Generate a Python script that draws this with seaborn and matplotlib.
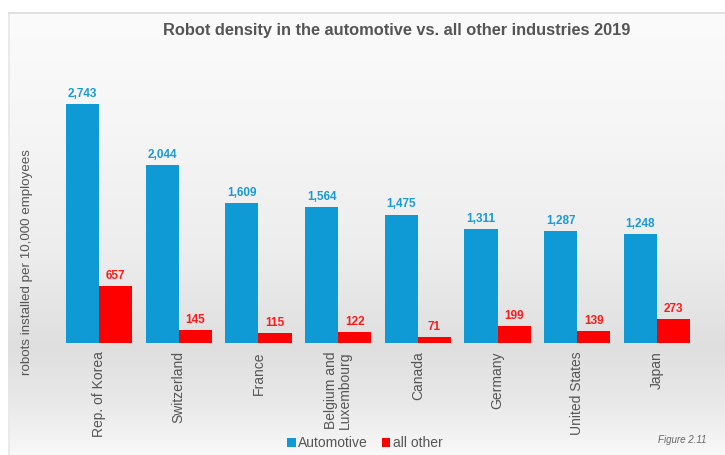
import numpy as np
import pandas as pd
import matplotlib
matplotlib.use("Agg")
import matplotlib.pyplot as plt
import seaborn as sns
from matplotlib.patches import Patch

countries = ["Rep. of Korea", "Switzerland", "France", "Belgium and\nLuxembourg",
             "Canada", "Germany", "United States", "Japan"]
automotive = [2743, 2044, 1609, 1564, 1475, 1311, 1287, 1248]
all_other = [657, 145, 115, 122, 71, 199, 139, 273]
series = ["Automotive", "all other"]
colors = ["#0f9ad6", "#ff0000"]
label_colors = ["#1a9ad6", "#ff1a1a"]

df = pd.DataFrame({
    "country": countries * 2,
    "industry": [series[0]] * len(countries) + [series[1]] * len(countries),
    "density": automotive + all_other,
})

sns.set_theme(style="white")
plt.rcParams["font.family"] = ["Liberation Sans", "DejaVu Sans"]

W, H = 725, 455
fig = plt.figure(figsize=(W / 100, H / 100), dpi=100)

# background panel: white strip on top, soft grey gradient below
bg = fig.add_axes([0, 0, 1, 1], zorder=-10)
rows = np.arange(H)
stops_y = [0, 12, 13, 120, 250, 345, 400, 455]
stops_v = [1.0, 1.0, 0.985, 0.965, 0.93, 0.875, 0.91, 0.975]
vals = np.interp(rows, stops_y, stops_v)
img = np.repeat(vals[:, None], W, axis=1)
img[:13, :] = 1.0
img[:, :8] = 1.0
img[13:, 8:10] = np.minimum(img[13:, 8:10], 0.92)
img[12:14, 8:] = 0.88
bg.imshow(np.dstack([img] * 3), aspect="auto", extent=[0, W, H, 0])
bg.set_axis_off()

ax = fig.add_axes([51.2 / W, (H - 343) / H, (704.8 - 51.2) / W, (343 - 81.7) / H])
ax.patch.set_alpha(0)

sns.barplot(data=df, x="country", y="density", hue="industry",
            palette=colors, width=0.83, saturation=1, linewidth=0,
            edgecolor="none", ax=ax, legend=False)

for cont, lc in zip(ax.containers, label_colors):
    ax.bar_label(cont, labels=[f"{v:,.0f}" for v in cont.datavalues],
                 padding=3, color=lc, fontsize=8.5, fontweight="bold")

ax.set_xlim(-0.6, 7.6)
ax.set_ylim(0, 3000)
ax.set_yticks([])
ax.set_xlabel("")
ax.set_ylabel("robots installed per 10,000 employees", color="#555555", fontsize=9.6)
ax.yaxis.set_label_coords(-0.028, 0.31)
ax.tick_params(axis="x", length=0, pad=6)
plt.setp(ax.get_xticklabels(), rotation=90, fontsize=10, color="#555555",
         linespacing=0.95)
for s in ax.spines.values():
    s.set_visible(False)

fig.text(397 / W, 1 - 31 / H, "Robot density in the automotive vs. all other industries 2019",
         ha="center", va="center", fontsize=11.8, fontweight="bold", color="#555555")

handles = [Patch(facecolor=c, edgecolor="none") for c in colors]
fig.legend(handles, series, loc="center", bbox_to_anchor=(365 / W, 1 - 443 / H),
           ncol=2, frameon=False, fontsize=10, handlelength=0.6, handleheight=0.6,
           handletextpad=0.2, columnspacing=1.0, labelcolor="#555555")

fig.text(682 / W, 1 - 440 / H, "Figure 2.11", ha="center", va="center",
         fontsize=7, style="italic", color="#666666")

fig.savefig("out.png", dpi=100)
